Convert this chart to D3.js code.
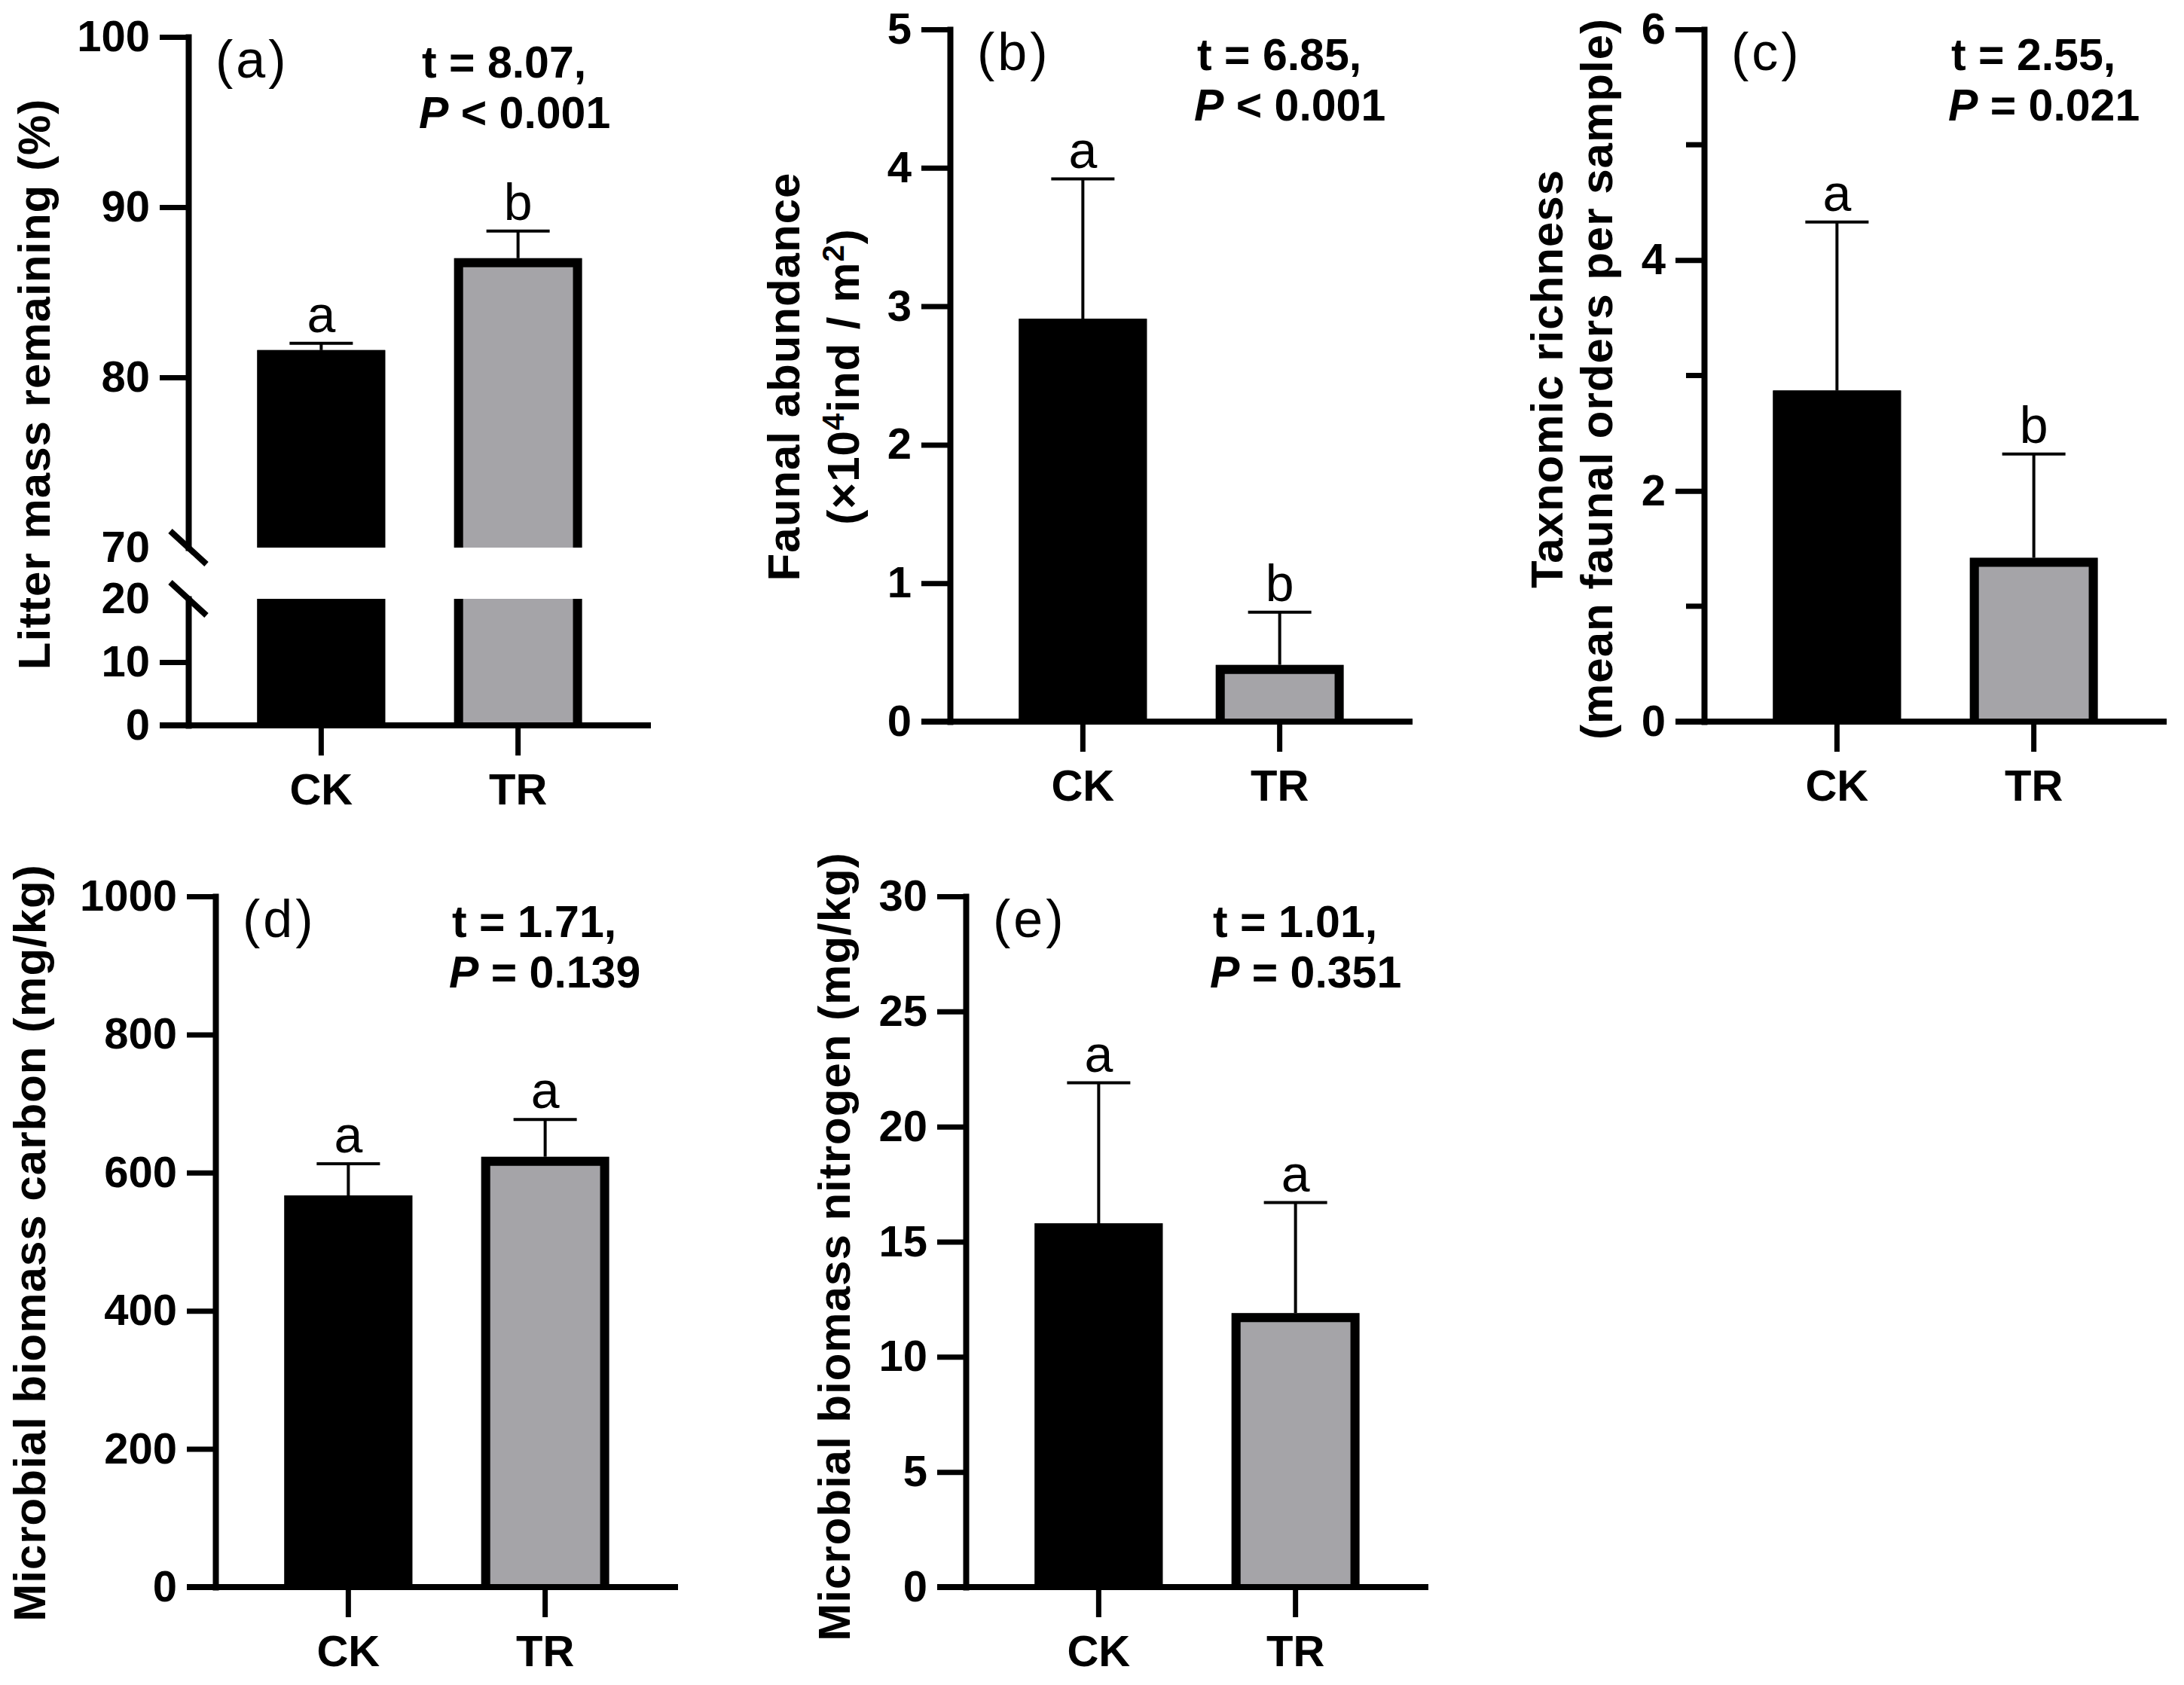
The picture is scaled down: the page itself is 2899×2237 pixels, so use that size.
<!DOCTYPE html>
<html>
<head>
<meta charset="utf-8">
<script src="https://cdn.jsdelivr.net/npm/d3@7"></script>
<style>
  body { margin: 0; background: #fff; }
  text { font-family: "Liberation Sans", Arial, sans-serif; }
</style>
</head>
<body>
<div id="chart"></div>
<script>
// ---- data ----
const groups = ["CK", "TR"];

const litterMean = [81.6, 87.0];
const litterSE = [0.4, 1.6];
const faunaMean = [2.91, 0.41];
const faunaSE = [1.01, 0.38];
const richMean = [2.87, 1.42];
const richSE = [1.46, 0.90];
const mbcMean = [567, 623];
const mbcSE = [46, 54];
const mbnMean = [15.8, 11.9];
const mbnSE = [6.1, 4.8];

const panelTags = ["(a)", "(b)", "(c)", "(d)", "(e)"];
const tStats = ["t = 8.07,", "t = 6.85,", "t = 2.55,", "t = 1.71,", "t = 1.01,"];
const pStats = [" < 0.001", " < 0.001", " = 0.021", " = 0.139", " = 0.351"];
const sigLetters = [["a", "b"], ["a", "b"], ["a", "b"], ["a", "a"], ["a", "a"]];

const litterTicksLower = [0, 10, 20];
const litterTicksUpper = [70, 80, 90, 100];
const faunaTicks = [0, 1, 2, 3, 4, 5];
const richTicks = [0, 2, 4, 6];
const richMinor = [1, 3, 5];
const mbcTicks = [0, 200, 400, 600, 800, 1000];
const mbnTicks = [0, 5, 10, 15, 20, 25, 30];

// ---- drawing ----
const W = 2899, H = 2237;
const fills = ["#000000", "#a5a4a8"];
const AXW = 8, TICK = 38, XLEN = 614, BORDER = 12;

const svg = d3.select("#chart")
  .append("svg")
    .attr("width", W)
    .attr("height", H);

const panels = [
  {ax: 250, top: 49, bottom: 963, tx: 310, mean: litterMean, se: litterSE,
   segs: [{dom: [0, 20], px: [963, 795], ticks: litterTicksLower, bare: [20]},
          {dom: [70, 100], px: [727, 49], ticks: litterTicksUpper, bare: [70]}],
   titleY: 510,
   title: [{x: 66, parts: [["Litter mass remaining (%)"]]}]},
  {ax: 1261, top: 39, bottom: 958, tx: 328, mean: faunaMean, se: faunaSE,
   segs: [{dom: [0, 5], px: [958, 39], ticks: faunaTicks, bare: []}],
   titleY: 500,
   title: [{x: 1061, parts: [["Faunal abundance"]]},
           {x: 1140, parts: [["(\u00d710"], ["4", true], ["ind / m"], ["2", true], [")"]]}]},
  {ax: 2262, top: 39, bottom: 958, tx: 328, mean: richMean, se: richSE,
   segs: [{dom: [0, 6], px: [958, 39], ticks: richTicks, minor: richMinor, bare: []}],
   titleY: 503,
   title: [{x: 2074, parts: [["Taxnomic richness"]]},
           {x: 2140, parts: [["(mean faunal orders per sample)"]]}]},
  {ax: 286, top: 1190, bottom: 2107, tx: 314, mean: mbcMean, se: mbcSE,
   segs: [{dom: [0, 1000], px: [2107, 1190], ticks: mbcTicks, bare: []}],
   titleY: 1650,
   title: [{x: 60, parts: [["Microbial biomass carbon (mg/kg)"]]}]},
  {ax: 1282, top: 1190, bottom: 2107, tx: 328, mean: mbnMean, se: mbnSE,
   segs: [{dom: [0, 30], px: [2107, 1190], ticks: mbnTicks, bare: []}],
   titleY: 1655,
   title: [{x: 1128, parts: [["Microbial biomass nitrogen (mg/kg)"]]}]}
];

panels.forEach(function(p, k) {
  const g = svg.append("g");

  const x = d3.scaleBand()
    .domain(groups)
    .range([p.ax, p.ax + XLEN])
    .paddingInner(0.35)
    .paddingOuter(0.35);
  const bw = x.bandwidth();

  p.segs.forEach(function(s) {
    s.y = d3.scaleLinear().domain(s.dom).range(s.px);
  });

  // bars, one piece per axis segment
  p.segs.forEach(function(s) {
    groups.forEach(function(grp, i) {
      const v = p.mean[i];
      if (v < s.dom[0]) return;
      const closed = v <= s.dom[1];
      const yTop = s.y(Math.min(v, s.dom[1]));
      const yBot = s.y(s.dom[0]);
      const x0 = x(grp);
      g.append("rect")
        .attr("x", x0).attr("y", yTop)
        .attr("width", bw).attr("height", yBot - yTop)
        .attr("fill", fills[i]);
      const l = x0 + BORDER / 2, r = x0 + bw - BORDER / 2;
      const d = closed
        ? `M${l},${yBot}V${yTop + BORDER / 2}H${r}V${yBot}`
        : `M${l},${yBot}V${yTop}M${r},${yBot}V${yTop}`;
      g.append("path")
        .attr("d", d)
        .attr("fill", "none")
        .attr("stroke", "#000")
        .attr("stroke-width", BORDER);
    });
  });

  // error bars (upper whisker) and letters
  groups.forEach(function(grp, i) {
    const hi = p.mean[i] + p.se[i];
    const s = p.segs.find(function(s) { return hi >= s.dom[0] && hi <= s.dom[1]; });
    const cx = x(grp) + bw / 2;
    g.append("line")
      .attr("x1", cx).attr("x2", cx)
      .attr("y1", s.y(p.mean[i])).attr("y2", s.y(hi))
      .attr("stroke", "#000").attr("stroke-width", 4);
    g.append("line")
      .attr("x1", cx - 42).attr("x2", cx + 42)
      .attr("y1", s.y(hi)).attr("y2", s.y(hi))
      .attr("stroke", "#000").attr("stroke-width", 4);
    g.append("text")
      .attr("x", cx).attr("y", s.y(hi) - 15)
      .attr("text-anchor", "middle")
      .attr("font-size", 68)
      .text(sigLetters[k][i]);
  });

  // y axis segments
  p.segs.forEach(function(s) {
    const ya = g.append("g")
      .attr("transform", `translate(${p.ax}, 0)`)
      .call(d3.axisLeft(s.y)
        .tickValues(s.ticks)
        .tickSize(TICK)
        .tickSizeOuter(0)
        .tickPadding(13)
        .tickFormat(d3.format("d")))
      .attr("font-size", 58)
      .attr("font-weight", "bold")
      .attr("font-family", "Liberation Sans, Arial, sans-serif");
    ya.select(".domain").attr("stroke-width", AXW).attr("stroke-linecap", "square");
    ya.selectAll(".tick line").attr("stroke-width", 7);
    ya.selectAll(".tick text").attr("fill", "#000");
    ya.selectAll(".tick")
      .filter(function(d) { return s.bare.indexOf(d) >= 0; })
      .select("line").remove();
    if (s.minor) {
      g.selectAll(null)
        .data(s.minor)
        .join("line")
          .attr("x1", p.ax - 24).attr("x2", p.ax)
          .attr("y1", function(d) { return s.y(d); })
          .attr("y2", function(d) { return s.y(d); })
          .attr("stroke", "#000").attr("stroke-width", 7);
    }
  });

  // axis break marks
  if (p.segs.length > 1) {
    [p.segs[1].px[0], p.segs[0].px[1]].forEach(function(yb) {
      g.append("line")
        .attr("x1", p.ax - 24).attr("y1", yb - 22)
        .attr("x2", p.ax + 24).attr("y2", yb + 22)
        .attr("stroke", "#000").attr("stroke-width", AXW);
    });
  }

  // x axis
  const xa = g.append("g")
    .attr("transform", `translate(0, ${p.bottom})`)
    .call(d3.axisBottom(x).tickSize(40).tickPadding(24))
    .attr("font-size", 58)
    .attr("font-weight", "bold")
    .attr("font-family", "Liberation Sans, Arial, sans-serif");
  xa.select(".domain").remove();
  xa.selectAll(".tick line").attr("stroke-width", 7);
  xa.selectAll(".tick text").attr("fill", "#000");
  g.append("line")
    .attr("x1", p.ax - TICK).attr("x2", x.range()[1])
    .attr("y1", p.bottom).attr("y2", p.bottom)
    .attr("stroke", "#000").attr("stroke-width", AXW);

  // panel tag and statistics
  g.append("text")
    .attr("x", p.ax + 36).attr("y", p.top + 54)
    .attr("font-size", 70)
    .attr("letter-spacing", 4)
    .text(panelTags[k]);
  g.append("text")
    .attr("x", p.ax + p.tx).attr("y", p.top + 54)
    .attr("font-size", 59).attr("font-weight", "bold")
    .text(tStats[k]);
  const pt = g.append("text")
    .attr("x", p.ax + p.tx - 4).attr("y", p.top + 121)
    .attr("font-size", 59).attr("font-weight", "bold");
  pt.append("tspan").attr("font-style", "italic").text("P");
  pt.append("tspan").attr("xml:space", "preserve").text(pStats[k]);

  // axis title (rotated, one or two lines)
  p.title.forEach(function(line) {
    const t = g.append("text")
      .attr("transform", `translate(${line.x}, ${p.titleY}) rotate(-90)`)
      .attr("text-anchor", "middle")
      .attr("font-size", 60)
      .attr("font-weight", "bold")
      .attr("letter-spacing", 1);
    let raised = false;
    line.parts.forEach(function(part) {
      if (part[1]) {
        t.append("tspan").attr("font-size", 40).attr("dy", -20).text(part[0]);
        raised = true;
      } else {
        t.append("tspan").attr("dy", raised ? 20 : 0)
          .attr("xml:space", "preserve").text(part[0]);
        raised = false;
      }
    });
  });
});
</script>
</body>
</html>
